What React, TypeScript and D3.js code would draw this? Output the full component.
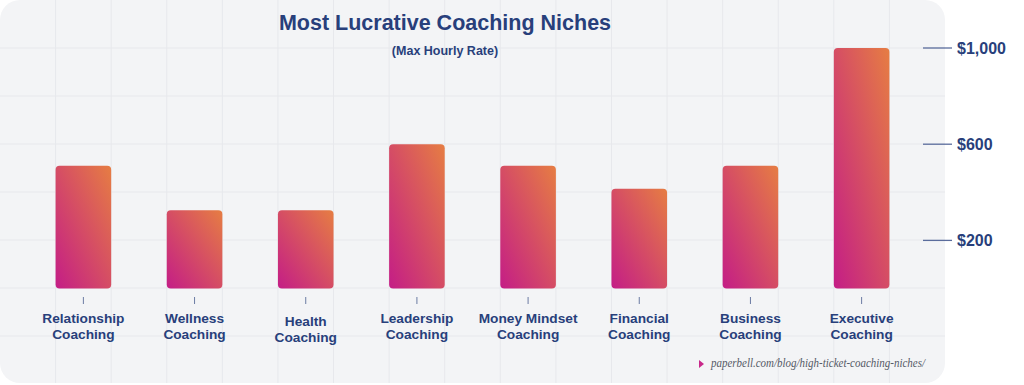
import React from "react";
import * as d3 from "d3";

const categories: string[][] = [
  ["Relationship", "Coaching"],
  ["Wellness", "Coaching"],
  ["Health", "Coaching"],
  ["Leadership", "Coaching"],
  ["Money Mindset", "Coaching"],
  ["Financial", "Coaching"],
  ["Business", "Coaching"],
  ["Executive", "Coaching"],
];
const maxHourlyRate: number[] = [510, 325, 325, 600, 510, 415, 510, 1000];
const tickValues: number[] = [200, 600, 1000];
const title = "Most Lucrative Coaching Niches";
const subtitle = "(Max Hourly Rate)";
const source = "paperbell.com/blog/high-ticket-coaching-niches/";

const W = 1024;
const H = 385;
const panelW = 945;
const panelH = 383;

export default function App() {
  const x = d3
    .scaleBand<number>()
    .domain(d3.range(categories.length))
    .range([0, panelW])
    .paddingInner(0.5)
    .paddingOuter(0.5);
  const y = d3.scaleLinear().domain([0, 1000]).range([288.5, 48]);
  const fmt = (v: number) => "$" + d3.format(",")(v);

  const gridStepX = panelW / 17;
  const vLines = d3.range(1, 17).map((i) => i * gridStepX);
  const hLines = d3.range(1, 8).map((i) => i * 48);

  const navy = "#283f7b";
  const font = "'Liberation Sans', Arial, sans-serif";

  return (
    <svg
      width={W}
      height={H}
      style={{ position: "absolute", left: 0, top: 0, background: "#ffffff" }}
    >
      <defs>
        <linearGradient id="barGrad" x1="0" y1="1" x2="1" y2="0">
          <stop offset="0%" stopColor="#c41d86" />
          <stop offset="100%" stopColor="#e67d43" />
        </linearGradient>
        <clipPath id="panelClip">
          <rect x={0} y={0} width={panelW} height={panelH} rx={20} ry={20} />
        </clipPath>
      </defs>
      <rect x={0} y={0} width={panelW} height={panelH} rx={20} ry={20} fill="#f3f4f6" />
      <g clipPath="url(#panelClip)">
        {vLines.map((vx, i) => (
          <line key={"v" + i} x1={vx} x2={vx} y1={0} y2={panelH} stroke="#e7e8ec" strokeWidth={1} />
        ))}
        {hLines.map((hy, i) => (
          <line key={"h" + i} x1={0} x2={panelW} y1={hy} y2={hy} stroke="#e7e8ec" strokeWidth={1} />
        ))}
      </g>

      <text x={445} y={30} textAnchor="middle" fontFamily={font} fontWeight="bold" fontSize={21.5} fill={navy}>
        {title}
      </text>
      <text x={445} y={54.5} textAnchor="middle" fontFamily={font} fontWeight="bold" fontSize={12.5} fill={navy}>
        {subtitle}
      </text>

      {maxHourlyRate.map((v, i) => (
        <rect
          key={"b" + i}
          x={x(i)!}
          y={y(v)}
          width={x.bandwidth()}
          height={y(0) - y(v)}
          rx={4}
          ry={4}
          fill="url(#barGrad)"
        />
      ))}

      {categories.map((lines, i) => {
        const cx = x(i)! + x.bandwidth() / 2;
        const shift = lines[0] === "Health" ? 3 : 0;
        return (
          <g key={"l" + i}>
            <line x1={cx} x2={cx} y1={297} y2={304} stroke="#6b7ba3" strokeWidth={1} />
            {lines.map((t, j) => (
              <text
                key={j}
                x={cx}
                y={323 + shift + j * 16}
                textAnchor="middle"
                fontFamily={font}
                fontWeight="bold"
                fontSize={13.7}
                fill={navy}
              >
                {t}
              </text>
            ))}
          </g>
        );
      })}

      {tickValues.map((t, i) => (
        <g key={"t" + i}>
          <line x1={923} x2={952} y1={y(t)} y2={y(t)} stroke="#5a6c9c" strokeWidth={1.3} />
          <text x={957} y={y(t) + 6} fontFamily={font} fontWeight="bold" fontSize={16} fill={navy}>
            {fmt(t)}
          </text>
        </g>
      ))}

      <path d="M699,360 L704,364 L699,368 Z" fill="#c8288a" />
      <text
        x={711}
        y={367}
        fontFamily="'Liberation Serif', 'DejaVu Serif', serif"
        fontStyle="italic"
        fontSize={13}
        fill="#555a66"
        textLength={214}
        lengthAdjust="spacingAndGlyphs"
      >
        {source}
      </text>
    </svg>
  );
}
